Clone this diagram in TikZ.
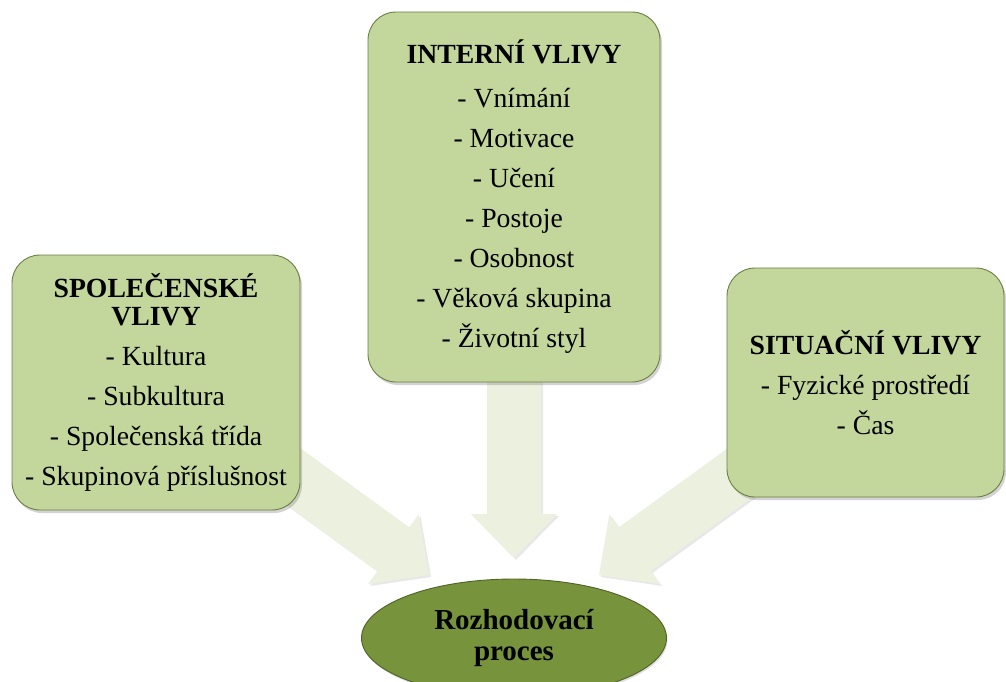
\documentclass[tikz,border=0pt]{standalone}
\usepackage{fontspec}
\setmainfont{Liberation Serif}
\usetikzlibrary{shadows,calc,shapes.geometric}
\definecolor{boxfill}{HTML}{C3D69B}
\definecolor{boxline}{HTML}{6A7F45}
\definecolor{arrowfill}{HTML}{EBF1DE}
\definecolor{ellfill}{HTML}{77933C}
\definecolor{ellline}{HTML}{4F6228}
\tikzset{
  infobox/.style={draw=boxline, line width=0.9pt, fill=boxfill, rounded corners=28pt,
    inner sep=0pt, align=center, font=\fontsize{27.7}{40}\selectfont,
    drop shadow={shadow xshift=2pt, shadow yshift=-3pt, opacity=0.35}},
  bigarrow/.style={fill=arrowfill, drop shadow={shadow xshift=2pt, shadow yshift=-2pt, opacity=0.18}},
  decision/.style={ellipse, draw=ellline, line width=0.9pt, fill=ellfill, inner sep=0pt,
    align=center, font=\fontsize{29}{31}\selectfont\bfseries,
    drop shadow={shadow xshift=1pt, shadow yshift=-2pt, opacity=0.25}}
}
\newcommand\flowarrow[3]{%
  \coordinate (#3b) at ($(#2)!44pt!(#1)$);
  \fill[bigarrow] ($(#1)!27pt!90:(#2)$) -- ($(#3b)!27pt!90:(#2)$) -- ($(#3b)!43pt!90:(#2)$)
    -- (#2) -- ($(#3b)!43pt!-90:(#2)$) -- ($(#3b)!27pt!-90:(#2)$) -- ($(#1)!27pt!-90:(#2)$) -- cycle;
}
\begin{document}
\begin{tikzpicture}[x=1pt,y=-1pt]
\useasboundingbox (0,0) rectangle (1006,681);
% arrow end points
\coordinate (ltail) at (243,440);  \coordinate (ltip) at (429,575);
\coordinate (ctail) at (514,300);  \coordinate (ctip) at (514,558);
\coordinate (rtail) at (785,440);  \coordinate (rtip) at (599,575);
\flowarrow{ltail}{ltip}{la}
\flowarrow{ctail}{ctip}{ca}
\flowarrow{rtail}{rtip}{ra}
% boxes
\node[infobox, minimum width=288pt, minimum height=255pt] (social) at (156,382.5)
  {\textbf{SPOLEČENSKÉ}\\[-12pt]\textbf{VLIVY}\\- Kultura\\- Subkultura\\- Společenská třída\\- Skupinová příslušnost};
\node[infobox, minimum width=292pt, minimum height=370pt] (internal) at (514,197)
  {\textbf{INTERNÍ VLIVY}\\[4pt]- Vnímání\\- Motivace\\- Učení\\- Postoje\\- Osobnost\\- Věková skupina\\- Životní styl};
\node[infobox, minimum width=277pt, minimum height=229pt] (situational) at (865.5,382.5)
  {\textbf{SITUAČNÍ VLIVY}\\- Fyzické prostředí\\- Čas};
% decision
\node[decision, minimum width=305pt, minimum height=118pt] (decide) at (514,638)
  {Rozhodovací\\proces};
\end{tikzpicture}
\end{document}
